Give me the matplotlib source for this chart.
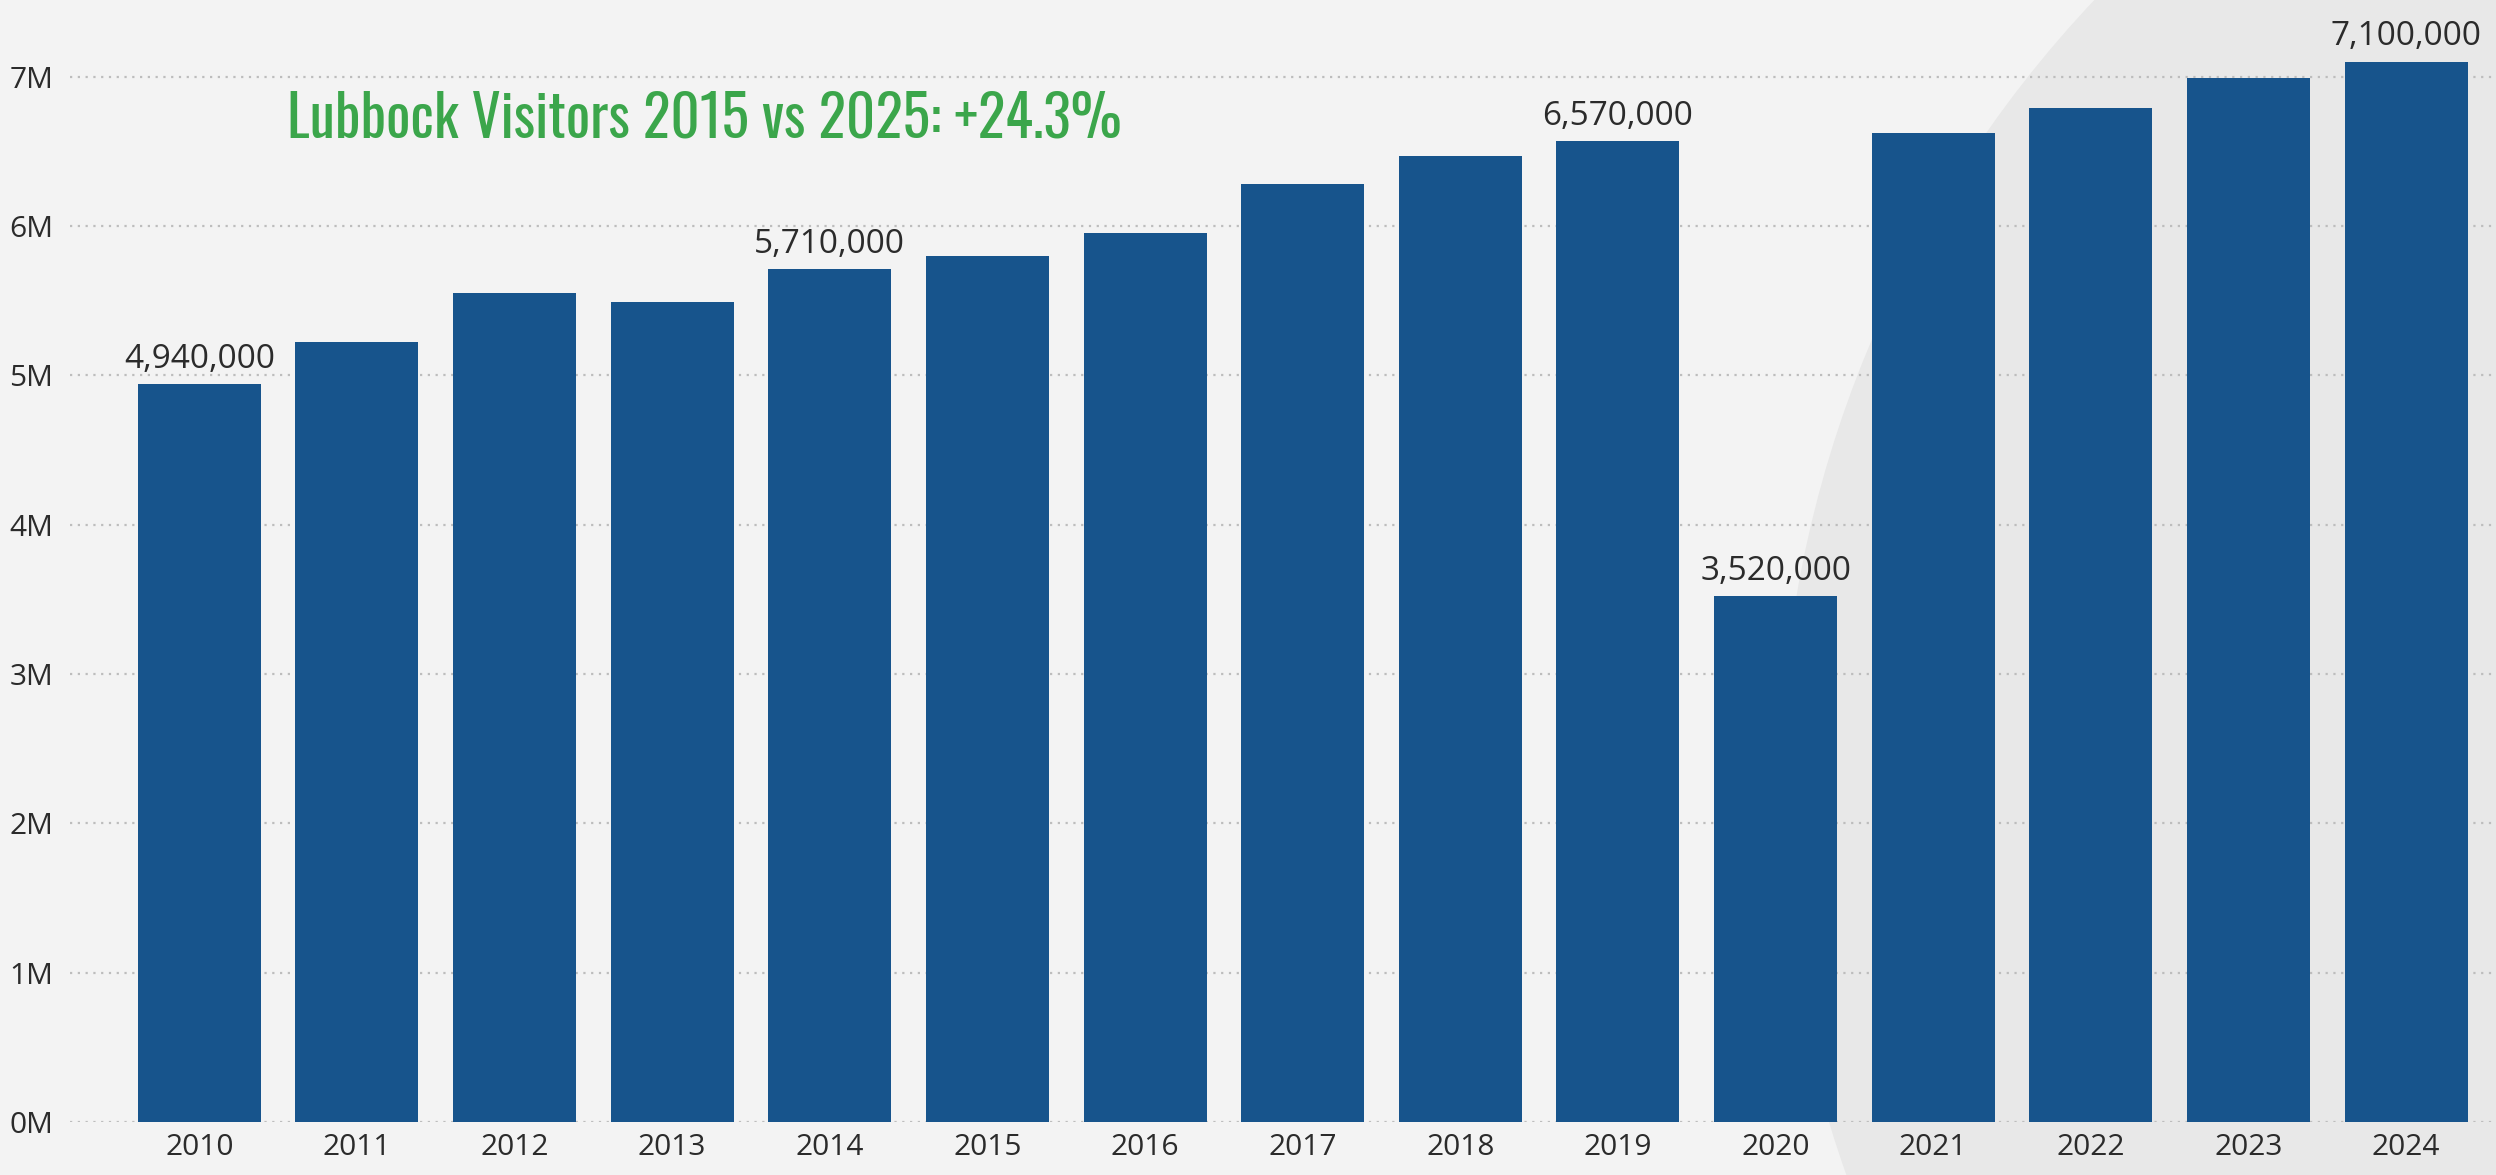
import matplotlib
matplotlib.use('Agg')
import matplotlib.pyplot as plt
from matplotlib.patches import Ellipse
from matplotlib.transforms import IdentityTransform
from matplotlib.ticker import FuncFormatter

years = ['2010', '2011', '2012', '2013', '2014', '2015', '2016', '2017',
         '2018', '2019', '2020', '2021', '2022', '2023', '2024']
visitors = [4940000, 5220000, 5550000, 5490000, 5710000, 5800000, 5950000,
            6280000, 6470000, 6570000, 3520000, 6620000, 6790000, 6990000,
            7100000]
# only these bars carry a value label
labeled_years = ['2010', '2014', '2019', '2020', '2024']
y_ticks = [0, 1000000, 2000000, 3000000, 4000000, 5000000, 6000000, 7000000]
title_text = 'Lubbock Visitors 2015 vs 2025: +24.3%'

BAR_COLOR = '#17548c'
BG_COLOR = '#f3f3f3'
TITLE_GREEN = '#3ba64b'
TEXT_COLOR = '#2b2b2b'

plt.rcParams['font.family'] = ['Open Sans', 'DejaVu Sans']

W, H = 2496, 1175
fig = plt.figure(figsize=(W / 100, H / 100), dpi=100, facecolor=BG_COLOR)

# faint round emblem in the background, right side
fig.add_artist(Ellipse((2930, H - 790), 2300, 2300, facecolor='#e8e8e8',
                       edgecolor='none', transform=IdentityTransform(),
                       zorder=-5))

ax = fig.add_axes([70 / W, 53 / H, (W - 70) / W, 1120 / H])
ax.set_facecolor('none')

x = list(range(len(years)))
ax.bar(x, visitors, width=0.78, color=BAR_COLOR, zorder=3)

for i, (yr, v) in enumerate(zip(years, visitors)):
    if yr in labeled_years:
        ax.annotate(f'{v:,}', (i, v), xytext=(0, 6), textcoords='offset points',
                    ha='center', va='bottom', fontsize=24, color=TEXT_COLOR,
                    annotation_clip=False)

ax.set_xlim(-0.82, 14.57)
ax.set_ylim(0, 7500000)
ax.set_xticks(x)
ax.set_xticklabels(years)
ax.set_yticks(y_ticks)
ax.yaxis.set_major_formatter(FuncFormatter(lambda v, p: f'{v / 1e6:.0f}M'))
ax.tick_params(axis='both', length=0, labelsize=21.5, labelcolor=TEXT_COLOR)
ax.tick_params(axis='y', pad=12)
ax.tick_params(axis='x', pad=8)
ax.yaxis.grid(True, linestyle=(0, (1, 2.5)), color='#bdbdbd', linewidth=1.6,
              zorder=0)
ax.set_axisbelow(True)
for s in ax.spines.values():
    s.set_visible(False)

# headline in a narrow face, sized to its slot
title = fig.text(287 / W, 1 - 138 / H, title_text, color=TITLE_GREEN,
                 fontsize=40, ha='left', va='baseline',
                 family=['Oswald', 'Antonio', 'DejaVu Sans'])
fig.canvas.draw()
tw = title.get_window_extent().width
title.set_fontsize(40 * 835 / tw)

fig.savefig('out.png', dpi=100, facecolor=BG_COLOR)
